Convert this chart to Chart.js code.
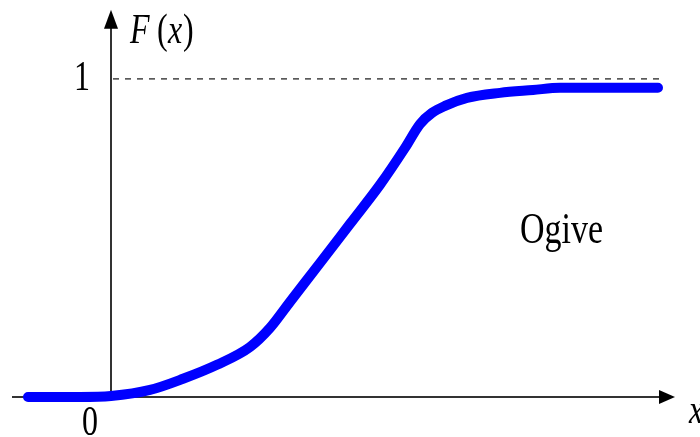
<!DOCTYPE html>
<html>
<head>
<meta charset="utf-8">
<script src="https://cdn.jsdelivr.net/npm/chart.js@4"></script>
<style>
  html, body { margin: 0; padding: 0; background: #fff; }
  #wrap { width: 700px; height: 437px; position: relative; }
</style>
</head>
<body>
<div id="wrap"><canvas id="ogiveChart"></canvas></div>
<script>
// curve (x in arbitrary units, F in 0..1)
const xValues = [-1.66, -0.62, 0, 0.78, 1.44, 2.12, 2.78, 3.18, 3.58, 4.18, 4.78, 5.38, 5.88, 6.18, 6.42, 6.68, 7.12, 7.78, 8.44, 8.98, 10.94];
const fValues = [0, 0, 0.003, 0.022, 0.057, 0.101, 0.157, 0.217, 0.299, 0.421, 0.544, 0.667, 0.783, 0.858, 0.893, 0.915, 0.940, 0.956, 0.965, 0.972, 0.972];

// axis extents and tick labels
const xRange = [-2.22, 11.78];
const yRange = [-0.126, 1.248];
const xAxisExtent = [-1.98, 11.28];
const yAxisTop = 1.217;
const dashedEnd = 10.98;
const xTickLabel = '0';
const yTickLabel = '1';
const curveLabel = 'Ogive';

/* draws the arrowed axes and the dashed F = 1 line under the curve */
const axesPlugin = {
    id: 'axesPlugin',
    beforeDatasetsDraw(chart) {
        const ctx = chart.ctx;
        const xs = chart.scales.x, ys = chart.scales.y;
        const x0 = xs.getPixelForValue(0), y0 = ys.getPixelForValue(0);
        const y1 = ys.getPixelForValue(1);
        ctx.save();
        ctx.strokeStyle = '#333';
        ctx.lineWidth = 2;
        // x axis
        const xl = xs.getPixelForValue(xAxisExtent[0]);
        const xr = xs.getPixelForValue(xAxisExtent[1]);
        ctx.beginPath();
        ctx.moveTo(xl, y0);
        ctx.lineTo(xr - 12, y0);
        ctx.stroke();
        // y axis
        const yt = ys.getPixelForValue(yAxisTop);
        ctx.beginPath();
        ctx.moveTo(x0, y0);
        ctx.lineTo(x0, yt + 14);
        ctx.stroke();
        // arrow heads
        ctx.fillStyle = '#000';
        ctx.beginPath();
        ctx.moveTo(xr, y0);
        ctx.lineTo(xr - 16, y0 - 7);
        ctx.lineTo(xr - 16, y0 + 7);
        ctx.closePath();
        ctx.fill();
        ctx.beginPath();
        ctx.moveTo(x0, yt);
        ctx.lineTo(x0 - 7, yt + 19);
        ctx.lineTo(x0 + 7, yt + 19);
        ctx.closePath();
        ctx.fill();
        // dashed line at F = 1
        ctx.strokeStyle = '#444';
        ctx.lineWidth = 1.5;
        ctx.setLineDash([6, 6]);
        ctx.beginPath();
        ctx.moveTo(x0 + 2, y1);
        ctx.lineTo(xs.getPixelForValue(dashedEnd), y1);
        ctx.stroke();
        ctx.restore();
    },
    afterDraw(chart) {
        const ctx = chart.ctx;
        const xs = chart.scales.x, ys = chart.scales.y;
        const x0 = xs.getPixelForValue(0), y0 = ys.getPixelForValue(0);
        const y1 = ys.getPixelForValue(1);
        /* text is a bit taller than wide in the picture, so stretch it vertically */
        const put = (str, x, y, font, align) => {
            ctx.save();
            ctx.translate(x, y);
            ctx.scale(1, 1.3);
            ctx.font = font;
            ctx.fillStyle = '#000';
            ctx.textAlign = align || 'left';
            ctx.textBaseline = 'alphabetic';
            ctx.fillText(str, 0, 0);
            ctx.restore();
        };
        const serif = '"Liberation Serif", "Times New Roman", serif';
        put(yTickLabel, x0 - 29, y1 + 11, '32px ' + serif, 'center');
        put(xTickLabel, x0 - 21, y0 + 38, '32px ' + serif, 'center');
        // F (x) label
        put('F', x0 + 19, 43, 'italic 32px ' + serif);
        put('(', x0 + 46, 43, '32px ' + serif);
        put('x', x0 + 57, 43, 'italic 32px ' + serif);
        put(')', x0 + 72, 43, '32px ' + serif);
        // x label at the arrow, cut by the edge
        put('x', xs.getPixelForValue(xAxisExtent[1]) + 14, y0 + 26, 'italic 32px ' + serif);
        put(curveLabel, 520, 243, '34px ' + serif);
    }
};

new Chart(document.getElementById('ogiveChart'), {
    type: 'scatter',
    data: {
        datasets: [{
            label: curveLabel,
            data: xValues.map((x, i) => ({ x: x, y: fValues[i] })),
            showLine: true,
            borderColor: '#0000ff',
            borderWidth: 10,
            borderCapStyle: 'round',
            borderJoinStyle: 'round',
            cubicInterpolationMode: 'monotone',
            pointRadius: 0,
            fill: false,
        }],
    },
    options: {
        responsive: true,
        maintainAspectRatio: false,
        animation: false,
        layout: { padding: 0 },
        plugins: { legend: { display: false }, tooltip: { enabled: false } },
        scales: {
            x: { type: 'linear', display: false, min: xRange[0], max: xRange[1] },
            y: { type: 'linear', display: false, min: yRange[0], max: yRange[1] },
        },
    },
    plugins: [axesPlugin],
});
</script>
</body>
</html>
